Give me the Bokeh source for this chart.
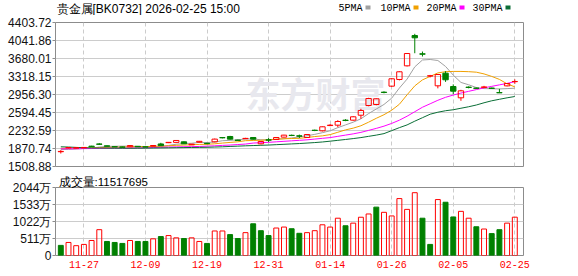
import numpy as np
from bokeh.plotting import figure
from bokeh.models import Range1d, FixedTicker, Label, ColumnDataSource, PrintfTickFormatter
from bokeh.layouts import column
from bokeh.core.properties import value
from bokeh.embed import file_html
from bokeh.resources import INLINE

# ---------------- data ----------------
dates = ["11-24", "11-25", "11-26", "11-27", "11-28",
         "12-01", "12-02", "12-03", "12-04", "12-05",
         "12-08", "12-09", "12-10", "12-11", "12-12",
         "12-15", "12-16", "12-17", "12-18", "12-19",
         "12-22", "12-23", "12-24", "12-25", "12-26",
         "12-29", "12-30", "12-31",
         "01-05", "01-06", "01-07", "01-08", "01-09",
         "01-12", "01-13", "01-14", "01-15", "01-16",
         "01-19", "01-20", "01-21", "01-22", "01-23",
         "01-26", "01-27", "01-28", "01-29", "01-30",
         "02-02", "02-03", "02-04", "02-05", "02-06",
         "02-09", "02-10", "02-11", "02-12", "02-13",
         "02-24", "02-25"]

open_ = [1806, 1884, 1880, 1886, 1918, 1962, 1925, 1908, 1902, 1905,
         1915, 1904, 1918, 1962, 1988, 1994, 2005, 1945, 1998, 1975,
         2005, 2090, 2112, 2040, 2068, 2092, 1965, 2045, 2052, 2099,
         2136, 2125, 2092, 2238, 2226, 2332, 2340, 2440, 2440, 2540,
         2735, 2755, 3003, 3124, 3258, 3533, 4142, 3775, 3328, 3131,
         3385, 3117, 2890, 3105, 3085, 3100, 3085, 2995, 3130, 3214]
high = [1838, 1900, 1892, 1898, 1925, 1978, 1930, 1915, 1910, 1935,
        1920, 1910, 1935, 1985, 2000, 2040, 2012, 1962, 2022, 1985,
        2070, 2100, 2125, 2048, 2085, 2100, 2015, 2080, 2098, 2145,
        2150, 2150, 2158, 2250, 2315, 2360, 2440, 2460, 2520, 2669,
        2890, 2880, 3020, 3285, 3425, 3790, 4176, 3820, 3350, 3365,
        3425, 3160, 3050, 3120, 3095, 3130, 3095, 3070, 3185, 3260]
low = [1770, 1875, 1872, 1878, 1900, 1942, 1910, 1898, 1890, 1900,
       1900, 1895, 1912, 1925, 1980, 1990, 1960, 1940, 1990, 1960,
       1995, 2075, 2050, 2025, 2060, 2050, 1955, 2000, 2045, 2095,
       2120, 2080, 2085, 2220, 2215, 2320, 2299, 2420, 2430, 2468,
       2720, 2740, 2980, 3110, 3240, 3520, 3786, 3720, 3300, 3080,
       3210, 2963, 2830, 3080, 3070, 3090, 3070, 2985, 3120, 3170]
close = [1812, 1890, 1886, 1892, 1906, 1955, 1915, 1903, 1896, 1930,
         1905, 1900, 1931, 1928, 1994, 2032, 1965, 1958, 2015, 1968,
         2059, 2086, 2059, 2032, 2074, 2059, 2012, 2039, 2092, 2139,
         2132, 2119, 2152, 2233, 2307, 2340, 2413, 2434, 2508, 2635,
         2876, 2870, 2997, 3272, 3413, 3780, 4096, 3766, 3332, 3358,
         3252, 3023, 3030, 3097, 3080, 3108, 3080, 2990, 3177, 3218]

ma5 = [1850, 1852, 1860, 1872, 1878, 1900, 1912, 1916, 1918, 1918,
       1912, 1907, 1913, 1914, 1932, 1957, 1970, 1976, 1993, 1990,
       2001, 2027, 2035, 2045, 2062, 2062, 2047, 2043, 2055, 2068,
       2083, 2104, 2127, 2155, 2189, 2227, 2290, 2345, 2400, 2468,
       2573, 2665, 2756, 2883, 3086, 3266, 3512, 3650, 3660, 3640,
       3520, 3346, 3199, 3152, 3096, 3075, 3072, 3068, 3075, 3083]
ma10 = [1875, 1876, 1878, 1880, 1883, 1888, 1893, 1896, 1898, 1905,
        1906, 1910, 1913, 1915, 1925, 1935, 1940, 1945, 1953, 1955,
        1965, 1980, 1993, 2005, 2028, 2032, 2037, 2044, 2058, 2065,
        2072, 2075, 2091, 2111, 2125, 2150, 2197, 2245, 2280, 2328,
        2400, 2478, 2550, 2640, 2760, 2950, 3130, 3250, 3320, 3390,
        3415, 3420, 3420, 3415, 3405, 3370, 3320, 3260, 3170, 3110]
ma20 = [1864, 1865, 1866, 1868, 1870, 1873, 1876, 1878, 1879, 1880,
        1882, 1885, 1890, 1895, 1900, 1903, 1906, 1908, 1912, 1918,
        1925, 1933, 1940, 1950, 1960, 1980, 1988, 1995, 2005, 2015,
        2025, 2035, 2045, 2060, 2075, 2090, 2115, 2140, 2165, 2195,
        2235, 2275, 2320, 2375, 2440, 2520, 2610, 2700, 2770, 2840,
        2900, 2945, 2985, 3020, 3055, 3090, 3120, 3150, 3180, 3215]
ma30 = [1905, 1900, 1893, 1886, 1882, 1880, 1878, 1877, 1876, 1876,
        1877, 1878, 1880, 1882, 1884, 1887, 1889, 1891, 1893, 1895,
        1900, 1905, 1912, 1918, 1925, 1930, 1935, 1940, 1948, 1955,
        1963, 1970, 1980, 1990, 2002, 2018, 2035, 2052, 2070, 2090,
        2115, 2140, 2170, 2230, 2290, 2345, 2420, 2490, 2560, 2600,
        2630, 2650, 2680, 2710, 2745, 2790, 2830, 2860, 2890, 2916]

# volume in 万 (10k)
vol = [304, 392, 295, 333, 451, 776, 422, 392, 363, 451,
       422, 422, 501, 569, 599, 531, 510, 531, 422, 363,
       737, 737, 628, 510, 687, 953, 746, 599, 826, 855,
       805, 667, 687, 746, 923, 855, 1121, 894, 973, 1150,
       1248, 1454, 1298, 1189, 1711, 1386, 1888, 1121, 333, 1681,
       1601, 1159, 1327, 1121, 864, 796, 658, 776, 973, 1151.7695]
vol_up = [0, 1, 1, 1, 1, 1, 0, 0, 0, 1,
          0, 0, 1, 0, 1, 1, 0, 1, 1, 0,
          1, 1, 0, 0, 1, 0, 0, 0, 1, 1,
          0, 0, 1, 1, 1, 1, 1, 0, 1, 1,
          1, 0, 1, 1, 1, 1, 1, 0, 0, 1,
          0, 0, 1, 1, 0, 1, 0, 0, 1, 1]

price_ticks = [1508.88, 1870.74, 2232.59, 2594.45, 2956.30,
               3318.15, 3680.01, 4041.86, 4403.72]
vol_ticks = [0, 511, 1022, 1533, 2044]
vol_tick_labels = ["0", "511万", "1022万", "1533万", "2044万"]
date_labels = ["11-27", "12-09", "12-19", "12-31", "01-14", "01-26", "02-05", "02-25"]

title_text = "贵金属[BK0732] 2026-02-25 15:00"
vol_title = "成交量:"
ma_names = ["5PMA", "10PMA", "20PMA", "30PMA"]
ma_colors = ["#a0a0a0", "#f0a000", "#ff00ff", "#0a6e36"]

RED = "#ff0000"
GREEN = "#008000"
GRID = "#cccccc"
FRAME = "#8c8c8c"
CJK = "Noto Sans CJK SC"
NUMF = "Liberation Sans"
MONO = "Liberation Mono"

# ---------------- derived ----------------
x = np.arange(len(dates))
o = np.array(open_, float)
h = np.array(high, float)
l = np.array(low, float)
c = np.array(close, float)
top = np.maximum(o, c)
bot = np.minimum(o, c)
up = c >= o

src_up = ColumnDataSource(dict(x=x[up], h=h[up], l=l[up], t=top[up], b=bot[up]))
src_dn = ColumnDataSource(dict(x=x[~up], h=h[~up], l=l[~up], t=top[~up], b=bot[~up]))

vu = np.array(vol_up, bool)
v = np.array(vol, float)
vsrc_up = ColumnDataSource(dict(x=x[vu], v=v[vu]))
vsrc_dn = ColumnDataSource(dict(x=x[~vu], v=v[~vu]))

date_pos = [dates.index(d) for d in date_labels]

W = 578
BL, BR = 55, 55
xr = Range1d(-0.69, 60.13)

# ---------------- header strip (title + MA legend) ----------------
HH = 15
hd = figure(width=W, height=HH, x_range=Range1d(BL, W - BR), y_range=Range1d(0, HH),
            output_backend="svg", toolbar_location=None,
            min_border_left=BL, min_border_right=BR, min_border_top=0, min_border_bottom=0)
hd.axis.visible = False
hd.grid.visible = False
hd.outline_line_color = None
hd.background_fill_color = "white"
hd.border_fill_color = "white"
hd.text(x=[BL + 1], y=[7], text=[title_text], text_font=value(NUMF), text_font_size="12px",
        text_color="#000000", text_baseline="middle", text_align="left")
leg_x = np.array([338, 380, 426, 472])
leg_len = np.array([len(n) for n in ma_names])
hd.text(x=leg_x, y=[7] * 4, text=ma_names, text_font=value(MONO), text_font_size="10px",
        text_color="#000000", text_baseline="middle", text_align="left")
sq_left = leg_x + leg_len * 6 + 3
hd.quad(left=sq_left, right=sq_left + 5, bottom=[6] * 4, top=[10] * 4,
        fill_color=ma_colors, line_color=None)

# ---------------- price figure ----------------
p = figure(width=W, height=158, x_range=xr, y_range=Range1d(price_ticks[0], price_ticks[-1]),
           output_backend="svg", toolbar_location=None,
           min_border_left=BL, min_border_right=BR, min_border_top=7, min_border_bottom=7)
p.background_fill_color = "white"
p.border_fill_color = "white"
p.outline_line_color = FRAME
p.outline_line_width = 1
p.xaxis.visible = False
p.yaxis.ticker = FixedTicker(ticks=price_ticks)
p.yaxis.formatter = PrintfTickFormatter(format="%.2f")
p.yaxis.axis_line_color = None
p.yaxis.major_tick_out = 3
p.yaxis.major_tick_in = 0
p.yaxis.major_tick_line_color = FRAME
p.yaxis.minor_tick_line_color = None
p.yaxis.major_label_standoff = 1
p.yaxis.major_label_text_font = NUMF
p.yaxis.major_label_text_font_size = "12px"
p.yaxis.major_label_text_color = "#111111"
p.ygrid.ticker = FixedTicker(ticks=price_ticks)
p.ygrid.grid_line_color = GRID
p.xgrid.ticker = FixedTicker(ticks=date_pos)
p.xgrid.grid_line_color = GRID
p.xgrid.grid_line_dash = "4 3"

# watermark
p.add_layout(Label(x=190, y=74, x_units="screen", y_units="screen", text="东方财富",
                   text_font=CJK, text_font_size="35px", text_font_style="bold",
                   text_color="#e8e8ee", text_baseline="middle", text_align="left",
                   level="underlay"))

# moving averages
for arr, col in zip([ma5, ma10, ma20, ma30], ma_colors):
    p.line(x, arr, line_color=col, line_width=1)

# candles
p.segment("x", "h", "x", "t", source=src_up, line_color=RED, line_width=1)
p.segment("x", "b", "x", "l", source=src_up, line_color=RED, line_width=1)
p.vbar(x="x", top="t", bottom="b", width=0.7, source=src_up,
       fill_color=None, line_color=RED, line_width=1)
p.segment("x", "h", "x", "l", source=src_dn, line_color=GREEN, line_width=1)
p.vbar(x="x", top="t", bottom="b", width=0.7, source=src_dn,
       fill_color=GREEN, line_color=GREEN, line_width=1)

# ---------------- volume figure ----------------
q = figure(width=W, height=103, x_range=xr, y_range=Range1d(vol_ticks[0], vol_ticks[-1]),
           output_backend="svg", toolbar_location=None,
           title=vol_title + str(int(round(vol[-1] * 10000))),
           min_border_left=BL, min_border_right=BR, min_border_top=13, min_border_bottom=21)
q.title.text_font = NUMF
q.title.text_font_size = "11.5px"
q.title.text_font_style = "normal"
q.title.text_color = "#000000"
q.title.align = "left"
q.title.offset = 3
q.title.standoff = 0
q.background_fill_color = "white"
q.border_fill_color = "white"
q.outline_line_color = FRAME
q.outline_line_width = 1
q.xaxis.ticker = FixedTicker(ticks=date_pos)
q.xaxis.major_label_overrides = {pos: lab for pos, lab in zip(date_pos, date_labels)}
q.xaxis.axis_line_color = None
q.xaxis.major_tick_line_color = None
q.xaxis.minor_tick_line_color = None
q.xaxis.major_tick_out = 0
q.xaxis.major_label_standoff = 5
q.xaxis.major_label_text_font = MONO
q.xaxis.major_label_text_font_size = "10px"
q.xaxis.major_label_text_color = RED
q.yaxis.ticker = FixedTicker(ticks=vol_ticks)
q.yaxis.major_label_overrides = {t: s for t, s in zip(vol_ticks, vol_tick_labels)}
q.yaxis.axis_line_color = None
q.yaxis.major_tick_out = 3
q.yaxis.major_tick_in = 0
q.yaxis.major_tick_line_color = FRAME
q.yaxis.minor_tick_line_color = None
q.yaxis.major_label_standoff = 1
q.yaxis.major_label_text_font = NUMF
q.yaxis.major_label_text_font_size = "12px"
q.yaxis.major_label_text_color = "#111111"
q.ygrid.ticker = FixedTicker(ticks=vol_ticks)
q.ygrid.grid_line_color = GRID
q.xgrid.ticker = FixedTicker(ticks=date_pos)
q.xgrid.grid_line_color = GRID
q.xgrid.grid_line_dash = "4 3"

q.vbar(x="x", top="v", bottom=0, width=0.64, source=vsrc_up,
       fill_color=None, line_color=RED, line_width=1)
q.vbar(x="x", top="v", bottom=0, width=0.64, source=vsrc_dn,
       fill_color=GREEN, line_color=GREEN, line_width=1)

layout = column(hd, p, q, spacing=0)
open("out.html", "w").write(file_html(layout, INLINE))
